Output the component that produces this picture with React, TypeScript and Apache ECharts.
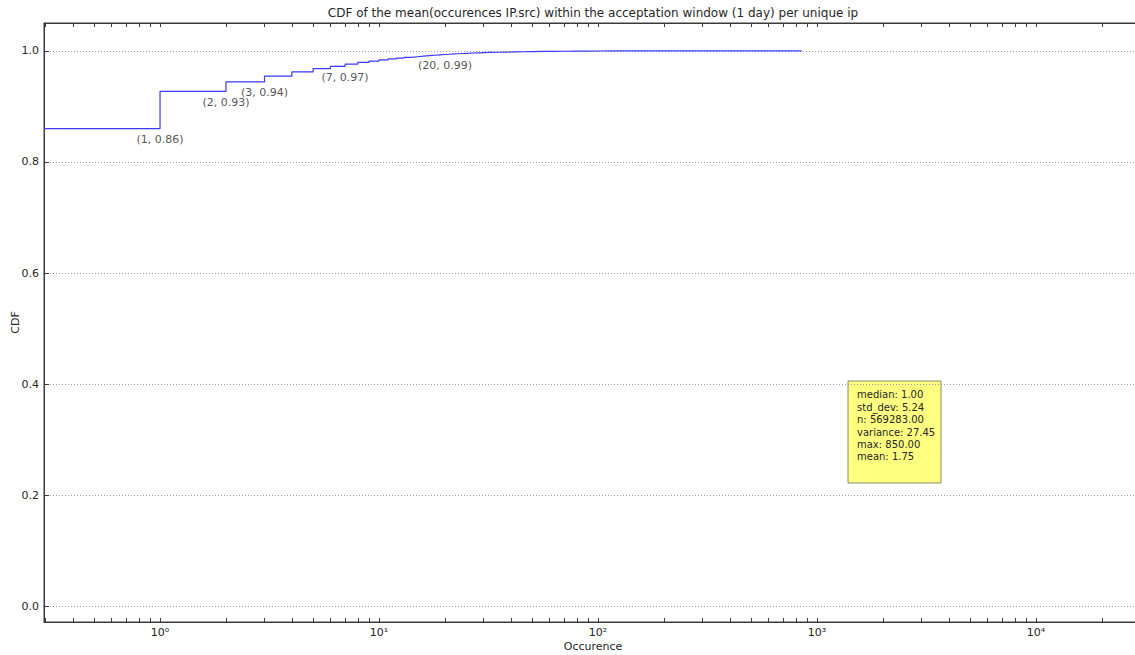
import { useEffect, useRef } from "react";
import * as echarts from "echarts";

// Empirical CDF of mean occurrences per unique IP (value -> cumulative share)
const occurrences = [
  1, 2, 3, 4, 5, 6, 7, 8, 9, 10, 11, 12, 13, 14, 15, 16, 17, 18, 19, 20,
  21, 22, 23, 24, 25, 26, 27, 28, 29, 30, 32, 35, 38, 42, 46, 50, 56, 63,
  70, 80, 90, 100, 120, 150, 200, 260, 350, 500, 850,
];
const cdf = [
  0.86, 0.927, 0.944, 0.9545, 0.962, 0.968, 0.972, 0.976, 0.979, 0.9815,
  0.9835, 0.9853, 0.9868, 0.9881, 0.9893, 0.9903, 0.9912, 0.992, 0.9927,
  0.9933, 0.9938, 0.9943, 0.9947, 0.9951, 0.9954, 0.9957, 0.996, 0.9962,
  0.9964, 0.9966, 0.997, 0.9974, 0.9977, 0.998, 0.9983, 0.9985, 0.9988,
  0.999, 0.9992, 0.9994, 0.9995, 0.9996, 0.9997, 0.9998, 0.99985, 0.9999,
  0.99993, 0.99996, 1.0,
];

// Occurrence values whose (x, cdf) pair is written next to the curve
const annotatedOccurrences = [1, 2, 3, 7, 20];

// Summary statistics shown in the yellow box
const statNames = ["median", "std_dev", "n", "variance", "max", "mean"];
const statValues = [1.0, 5.24, 569283.0, 27.45, 850.0, 1.75];

const yTicks = [0, 0.2, 0.4, 0.6, 0.8, 1.0];
const xMajorTicks = [1, 10, 100, 1000, 10000];

const TITLE =
  "CDF of the mean(occurences IP.src) within the acceptation window (1 day) per unique ip";

const X_MIN = 0.2952;
const X_MAX = 30480;
const Y_MIN = -0.028;
const Y_MAX = 1.05;

const FONT = "DejaVu Sans";
const TEXT = "#262626";
const SPINE = "#3a3a3a";

const SUPERSCRIPT: Record<string, string> = {
  "0": "\u2070", "1": "\u00b9", "2": "\u00b2", "3": "\u00b3", "4": "\u2074",
  "5": "\u2075", "6": "\u2076", "7": "\u2077", "8": "\u2078", "9": "\u2079", "-": "\u207b",
};

function powerLabel(v: number): string {
  const exp = String(Math.round(Math.log10(v)));
  return "10" + exp.split("").map((c) => SUPERSCRIPT[c] ?? c).join("");
}

// Decade ticks plus the 2..9 x 10^k ticks inside the axis range
function allLogTicks(): number[] {
  const out: number[] = [];
  for (let k = -1; k <= 4; k++) {
    for (let m = 1; m <= 9; m++) {
      const v = m * Math.pow(10, k);
      if (v >= X_MIN && v <= X_MAX) out.push(Number(v.toPrecision(6)));
    }
  }
  return out;
}

function spineLine() {
  return { show: true, onZero: false, lineStyle: { color: SPINE, width: 1 } };
}

function inwardTicks(values: number[], length: number) {
  return {
    show: true,
    inside: true,
    length,
    customValues: values.slice(),
    lineStyle: { color: SPINE, width: 1 },
  };
}

function logXAxis(position: "top" | "bottom") {
  return {
    type: "log",
    logBase: 10,
    min: X_MIN,
    max: X_MAX,
    position,
    splitLine: { show: false },
    axisLine: spineLine(),
    axisTick: inwardTicks(allLogTicks(), 4),
  };
}

function valueYAxis(position: "left" | "right") {
  return {
    type: "value",
    min: Y_MIN,
    max: Y_MAX,
    position,
    axisLine: spineLine(),
    axisTick: inwardTicks(yTicks, 5),
  };
}

export default function App() {
  const ref = useRef<HTMLDivElement>(null);

  useEffect(() => {
    if (!ref.current) return;
    const chart = echarts.init(ref.current, null, { renderer: "svg" });

    const lineData: [number, number][] = [
      [X_MIN, cdf[0]],
      ...occurrences.map((x, i) => [x, cdf[i]] as [number, number]),
    ];
    const annotationData = annotatedOccurrences.map((x) => [
      x,
      cdf[occurrences.indexOf(x)],
    ]);

    const stats = statNames
      .map((n, i) => `${n}: ${statValues[i].toFixed(2)}`)
      .join("\n");

    chart.setOption({
      animation: false,
      backgroundColor: "#ffffff",
      grid: {
        show: true,
        backgroundColor: "transparent",
        borderColor: SPINE,
        borderWidth: 1,
        left: 44,
        right: -7,
        top: 23,
        bottom: 33,
        containLabel: false,
        outerBoundsMode: "none",
      },
      xAxis: [
        {
          ...logXAxis("bottom"),
          axisLabel: {
            customValues: xMajorTicks.slice(),
            formatter: (v: number) => powerLabel(v),
            color: TEXT,
            fontFamily: FONT,
            fontSize: 11,
            margin: 5,
          },
          name: "Occurence",
          nameLocation: "middle",
          nameGap: 19,
          nameMoveOverlap: false,
          nameTextStyle: { color: TEXT, fontFamily: FONT, fontSize: 11 },
        },
        {
          ...logXAxis("top"),
          axisLabel: { show: false },
        },
      ],
      yAxis: [
        {
          ...valueYAxis("left"),
          axisLabel: {
            customValues: yTicks.slice(),
            formatter: (v: number) => v.toFixed(1),
            color: TEXT,
            fontFamily: FONT,
            fontSize: 11,
            margin: 5,
          },
          splitLine: {
            show: true,
            lineStyle: { color: "#9a9a9a", type: [1, 2], width: 1 },
          },
          name: "CDF",
          nameLocation: "middle",
          nameGap: 23.5,
          nameRotate: 90,
          nameMoveOverlap: false,
          nameTextStyle: { color: TEXT, fontFamily: FONT, fontSize: 11 },
        },
        {
          ...valueYAxis("right"),
          axisLabel: { show: false },
          splitLine: { show: false },
        },
      ],
      series: [
        {
          type: "line",
          xAxisIndex: 0,
          yAxisIndex: 0,
          step: "start",
          data: lineData,
          showSymbol: false,
          symbol: "none",
          clip: true,
          lineStyle: { color: "#3a3aff", width: 1.2 },
          emphasis: { disabled: true },
          z: 3,
        },
        {
          type: "scatter",
          xAxisIndex: 0,
          yAxisIndex: 0,
          data: annotationData,
          symbolSize: 1,
          itemStyle: { color: "rgba(0,0,0,0)" },
          label: {
            show: true,
            position: "bottom",
            distance: 5,
            formatter: (p: any) =>
              `(${p.value[0]}, ${Number(p.value[1]).toFixed(2)})`,
            color: TEXT,
            fontFamily: FONT,
            fontSize: 11,
          },
          emphasis: { disabled: true },
          z: 4,
        },
      ],
      graphic: [
        {
          type: "text",
          x: 593,
          y: 13,
          style: {
            text: TITLE,
            fill: TEXT,
            font: `12px "${FONT}"`,
            textAlign: "center",
            textVerticalAlign: "middle",
          },
        },
        {
          type: "group",
          z: 10,
          children: [
            {
              type: "rect",
              shape: { x: 848, y: 381, width: 93, height: 102 },
              style: { fill: "#ffff80", stroke: "#8a8a6a", lineWidth: 1 },
            },
            {
              type: "text",
              x: 857,
              y: 388.8,
              style: {
                text: stats,
                fill: TEXT,
                font: `10px "${FONT}"`,
                lineHeight: 12.4,
                textAlign: "left",
                textVerticalAlign: "top",
              },
            },
          ],
        },
      ],
    });

    return () => chart.dispose();
  }, []);

  return (
    <div
      ref={ref}
      style={{ position: "fixed", left: 0, top: 0, width: 1135, height: 655 }}
    />
  );
}
